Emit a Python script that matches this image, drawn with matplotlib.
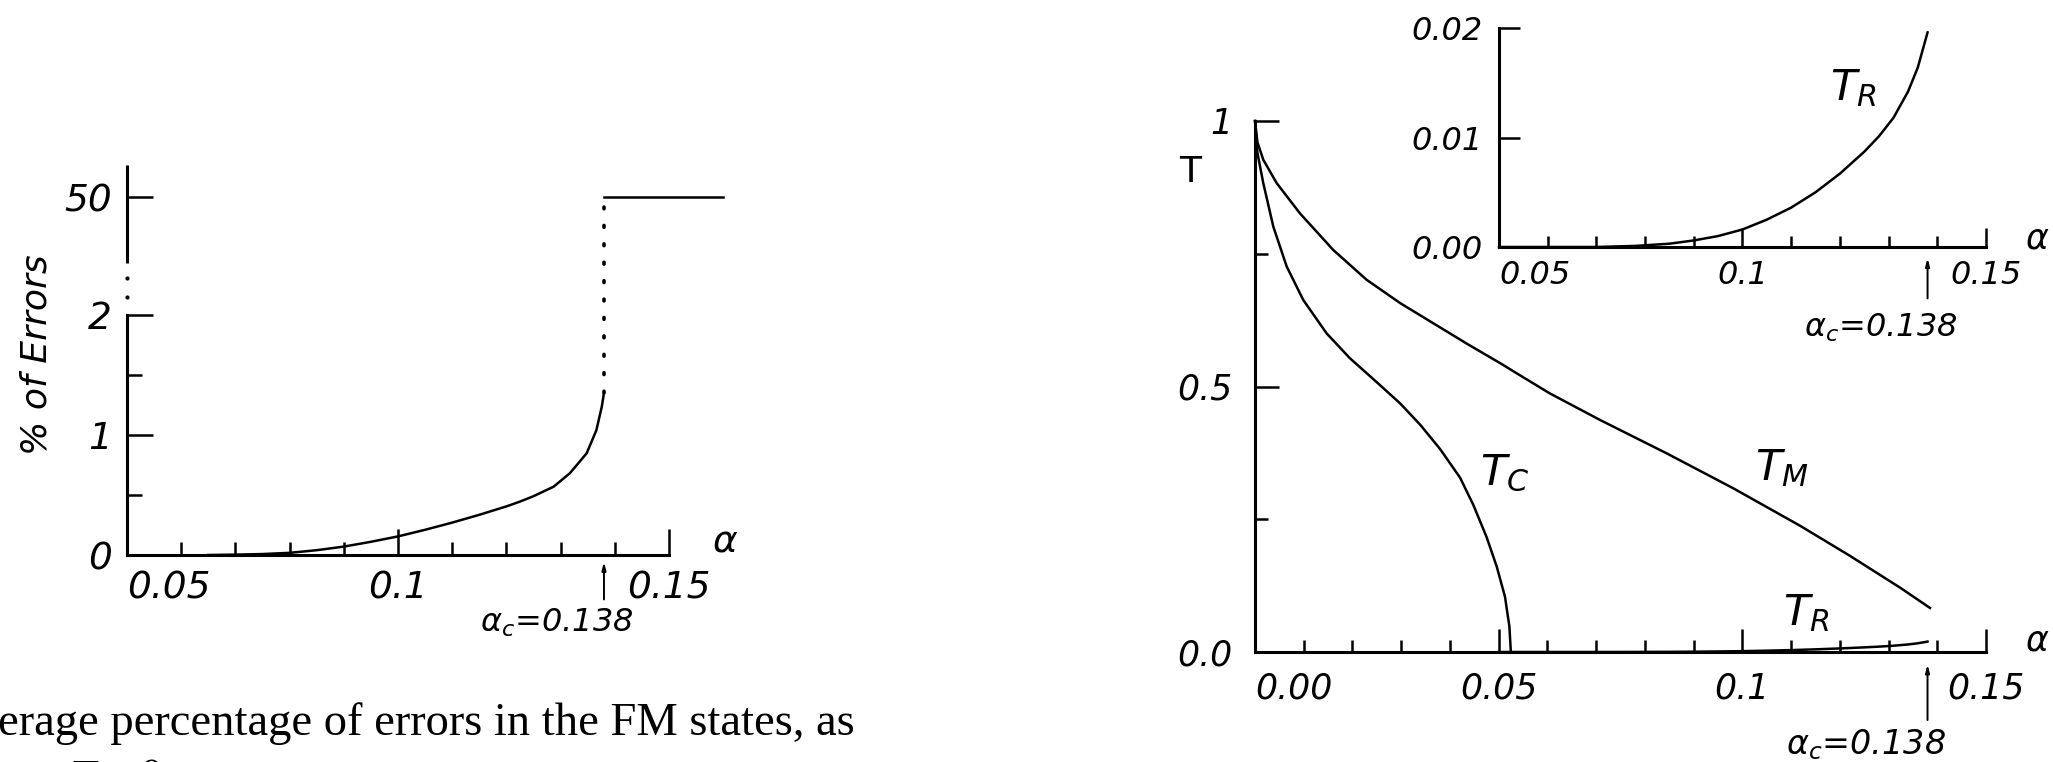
import matplotlib.pyplot as plt
import numpy as np

# ---- values ----
# left panel: % of errors in the FM states vs alpha, T = 0
err_alpha = [0.065, 0.070, 0.075, 0.080, 0.085, 0.090, 0.095, 0.100, 0.105, 0.110,
             0.115, 0.120, 0.1225, 0.125, 0.1287, 0.1317, 0.1348, 0.1366, 0.1376, 0.138]
err_pct = [0.0, 0.003, 0.008, 0.018, 0.04, 0.07, 0.11, 0.155, 0.21, 0.27,
           0.335, 0.405, 0.445, 0.49, 0.569, 0.681, 0.847, 1.04, 1.236, 1.35]
jump_alpha = [0.138, 0.160]
jump_pct = [50, 50]
alpha_c = 0.138

# right panel: transition temperatures vs alpha
tc_alpha = [0.0, 0.0005, 0.0017, 0.00376, 0.0065, 0.0099, 0.0147, 0.0195, 0.025, 0.0298,
            0.0339, 0.038, 0.0421, 0.0448, 0.0475, 0.0496, 0.0513, 0.0522, 0.0525]
tc = [1.0, 0.94, 0.883, 0.801, 0.726, 0.663, 0.600, 0.553, 0.508, 0.468,
      0.428, 0.382, 0.328, 0.277, 0.217, 0.161, 0.104, 0.048, 0.0]
tm_alpha = [0.0, 0.0005, 0.0017, 0.00445, 0.00923, 0.01607, 0.0229, 0.0298, 0.0366, 0.0434,
            0.0503, 0.0551, 0.0605, 0.0708, 0.0845, 0.0982, 0.1118, 0.1221, 0.1324, 0.1385]
tm = [1.0, 0.96, 0.927, 0.883, 0.826, 0.757, 0.701, 0.657, 0.619, 0.581,
      0.544, 0.517, 0.487, 0.437, 0.374, 0.308, 0.238, 0.181, 0.121, 0.083]
tr_alpha = [0.050, 0.060, 0.070, 0.078, 0.085, 0.090, 0.095, 0.100, 0.105, 0.110,
            0.115, 0.120, 0.125, 0.128, 0.131, 0.134, 0.136, 0.138]
tr = [0.0, 0.0, 0.0, 0.0001, 0.0003, 0.0006, 0.001, 0.0016, 0.0025, 0.0036,
      0.005, 0.0067, 0.0087, 0.0101, 0.0118, 0.0142, 0.0164, 0.0196]

plt.rcParams['font.family'] = 'DejaVu Sans'
plt.rcParams['mathtext.fontset'] = 'dejavusans'
plt.rcParams['lines.solid_joinstyle'] = 'round'

W, H = 2053, 762
AX_LW = 2.2
LW = 1.8

fig = plt.figure(figsize=(W / 100, H / 100), dpi=100)


def box(x0, y0, x1, y1):
    # pixel box (y from the top) -> figure fraction
    return [x0 / W, 1 - y1 / H, (x1 - x0) / W, (y1 - y0) / H]


def style(ax):
    for s in ('top', 'right'):
        ax.spines[s].set_visible(False)
    for s in ('left', 'bottom'):
        ax.spines[s].set_linewidth(AX_LW)
    ax.patch.set_alpha(0)


def italic_labels(ax):
    for lab in ax.get_xticklabels() + ax.get_yticklabels():
        lab.set_style('italic')


def arrow_c(ax, ydata, tail, shrink, label_off, size):
    ax.annotate('', xy=(alpha_c, ydata), xytext=(0, -tail), textcoords='offset points',
                arrowprops=dict(arrowstyle='-|>,head_length=0.45,head_width=0.12',
                                lw=1.4, color='k', shrinkA=0, shrinkB=shrink))
    ax.annotate(r'$\alpha_c$=0.138', xy=(alpha_c, ydata), xytext=label_off,
                textcoords='offset points', ha='center', va='center',
                fontsize=size, style='italic')


# ---------------- left panel: broken y axis ----------------
K = 0.983 / 48  # compression of the 2..50 stretch


def fwd(y):
    y = np.asarray(y, dtype=float)
    return np.where(y <= 2, y, 2 + (y - 2) * K)


def inv(f):
    f = np.asarray(f, dtype=float)
    return np.where(f <= 2, f, 2 + (f - 2) / K)


axL = fig.add_axes(box(127, 165, 669, 555))
axL.set_yscale('function', functions=(fwd, inv))
axL.set_xlim(0.05, 0.15)
axL.set_ylim(0, float(inv(3.25)))
style(axL)
axL.spines['left'].set_bounds(0, 2)
# upper piece of the broken axis and the dots of the break
axL.plot([0.05, 0.05], [23.1, 63.0], color='k', lw=AX_LW, clip_on=False,
         solid_capstyle='butt')
axL.plot([0.05, 0.05], [9.3, 17.1], 'k.', ms=4, clip_on=False)

axL.plot(err_alpha, err_pct, color='k', lw=LW, clip_on=False)
axL.plot([alpha_c, alpha_c], [err_pct[-1], jump_pct[0]], color='k', lw=2.6,
         linestyle=(0, (0.5, 4.6)), dash_capstyle='round', clip_on=False)
axL.plot(jump_alpha, jump_pct, color='k', lw=LW, clip_on=False)

axL.set_yticks([0, 1, 2, 50])
axL.set_yticklabels(['0', '1', '2', '50'])
axL.set_yticks([0.5, 1.5], minor=True)
axL.set_xticks([0.05, 0.1, 0.15])
axL.set_xticklabels(['0.05', '0.1', '0.15'])
axL.set_xticks(np.arange(0.06, 0.145, 0.01), minor=True)
axL.tick_params(which='both', direction='in', width=1.8, labelsize=27)
axL.tick_params(axis='y', which='major', length=19, pad=11)
axL.tick_params(axis='y', which='minor', length=11)
axL.tick_params(axis='x', which='major', length=19, pad=11)
axL.tick_params(axis='x', which='minor', length=9.5)
italic_labels(axL)
axL.get_xticklabels()[0].set_ha('left')
axL.text(0.1603, 0.11, r'$\alpha$', fontsize=27, ha='center', va='center')
arrow_c(axL, 0, 32, 5, (-34, -49), 23)
fig.text(37 / W, 1 - 355 / H, '% of Errors', rotation=90, ha='center', va='center',
         fontsize=26, style='italic')

# caption fragment under the left panel
fig.text(-2 / W, 1 - 735 / H, 'erage percentage of errors in the FM states, as',
         family='Liberation Serif', fontsize=33.5, va='baseline', ha='left')
fig.text(-14 / W, 1 - 792 / H, r'$\alpha$ at $T=0$', family='Liberation Serif',
         math_fontfamily='stix', fontsize=33.5, va='baseline', ha='left')

# ---------------- right panel ----------------
axR = fig.add_axes(box(1255, 121, 1986, 652))
axR.set_xlim(0, 0.15)
axR.set_ylim(0, 1)
style(axR)
axR.plot(tc_alpha, tc, color='k', lw=LW, clip_on=False)
axR.plot(tm_alpha, tm, color='k', lw=LW, clip_on=False)
axR.plot(tr_alpha, tr, color='k', lw=LW, clip_on=False)
axR.set_yticks([0, 0.5, 1])
axR.set_yticklabels(['0.0', '0.5', '1'])
axR.set_yticks([0.25, 0.75], minor=True)
axR.set_xticks([0, 0.05, 0.1, 0.15])
axR.set_xticklabels(['0.00', '0.05', '0.1', '0.15'])
axR.set_xticks(np.arange(0.01, 0.145, 0.01), minor=True)
axR.tick_params(which='both', direction='in', width=1.8, labelsize=25)
axR.tick_params(axis='y', which='major', length=17, pad=16)
axR.tick_params(axis='y', which='minor', length=9)
axR.tick_params(axis='x', which='major', length=16.5, pad=14)
axR.tick_params(axis='x', which='minor', length=8.6)
italic_labels(axR)
axR.get_xticklabels()[0].set_ha('left')
axR.text(0.0513, 0.337, r'$T_C$', fontsize=31, ha='center', va='center')
axR.text(0.108, 0.3465, r'$T_M$', fontsize=31, ha='center', va='center')
axR.text(0.1131, 0.0734, r'$T_R$', fontsize=31, ha='center', va='center')
axR.text(0.1605, 0.021, r'$\alpha$', fontsize=25, ha='center', va='center')
arrow_c(axR, 0, 49, 9, (-44.6, -67), 24)
fig.text(1190 / W, 1 - 172 / H, 'T', ha='center', va='center', fontsize=26)

# ---------------- inset: T_R magnified ----------------
axI = fig.add_axes(box(1499, 28, 1986, 247))
axI.set_xlim(0.05, 0.15)
axI.set_ylim(0, 0.02)
style(axI)
axI.plot(tr_alpha, tr, color='k', lw=LW, clip_on=False)
axI.set_yticks([0, 0.01, 0.02])
axI.set_yticklabels(['0.00', '0.01', '0.02'])
axI.set_xticks([0.05, 0.1, 0.15])
axI.set_xticklabels(['0.05', '0.1', '0.15'])
axI.set_xticks(np.arange(0.06, 0.145, 0.01), minor=True)
axI.tick_params(which='both', direction='in', width=1.8, labelsize=23)
axI.tick_params(axis='y', which='major', length=15, pad=12)
axI.tick_params(axis='x', which='major', length=13.7, pad=9)
axI.tick_params(axis='x', which='minor', length=8)
italic_labels(axI)
axI.get_xticklabels()[0].set_ha('left')
axI.text(0.1227, 0.01452, r'$T_R$', fontsize=31, ha='center', va='center')
axI.text(0.1605, 0.0008, r'$\alpha$', fontsize=25, ha='center', va='center')
arrow_c(axI, 0, 37, 8, (-34, -58), 23)

fig.savefig('out.png', dpi=100)
